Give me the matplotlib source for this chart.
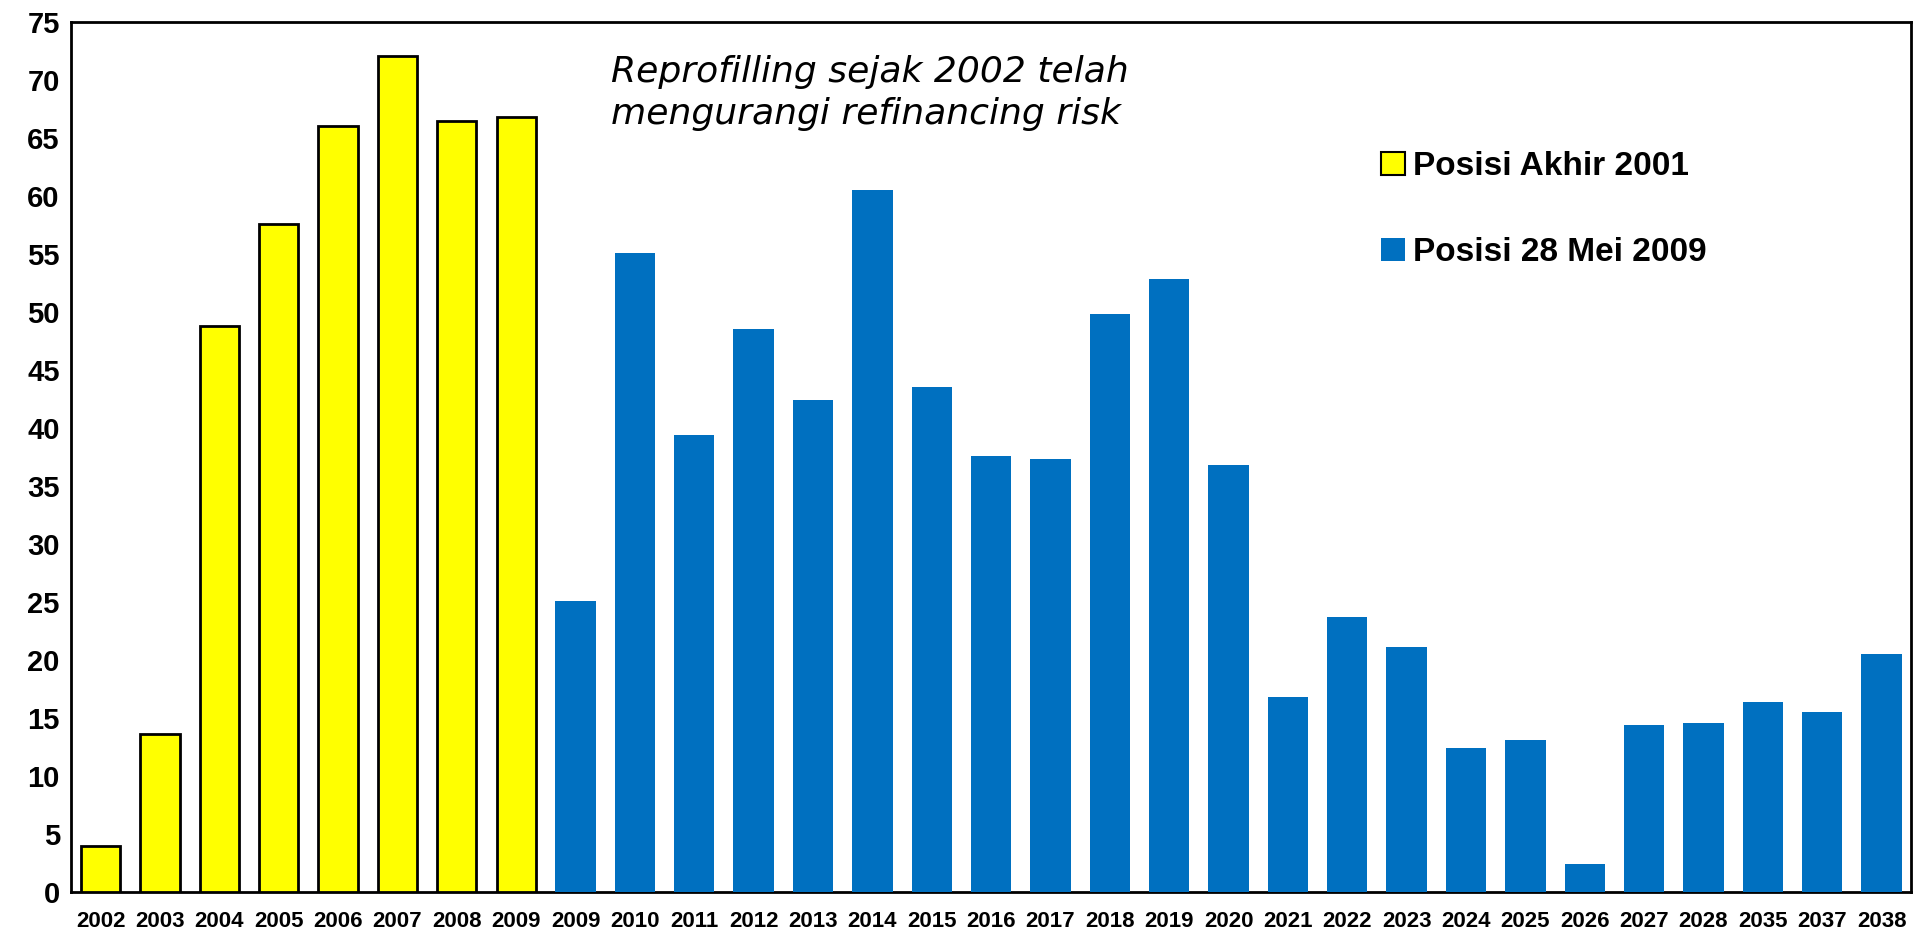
import matplotlib
matplotlib.use("Agg")
import matplotlib.pyplot as plt
from matplotlib.patches import Patch

labels = ["2002", "2003", "2004", "2005", "2006", "2007", "2008", "2009",
          "2009", "2010", "2011", "2012", "2013", "2014", "2015", "2016", "2017",
          "2018", "2019", "2020", "2021", "2022", "2023", "2024", "2025", "2026",
          "2027", "2028", "2035", "2037", "2038"]
akhir_2001 = [4.0, 13.6, 48.8, 57.6, 66.0, 72.1, 66.5, 66.8]
mei_2009 = [25.1, 55.1, 39.4, 48.5, 42.4, 60.5, 43.5, 37.6, 37.3, 49.8, 52.8,
            36.8, 16.8, 23.7, 21.1, 12.4, 13.1, 2.4, 14.4, 14.6, 16.4, 15.5, 20.5]
yticks = list(range(0, 80, 5))

YELLOW = "#FFFF00"
BLUE = "#0070C0"

plt.rcParams['font.family'] = ['Liberation Sans', 'DejaVu Sans']

fig = plt.figure(figsize=(19.17, 9.35), dpi=100)
ax = fig.add_axes([0.037, 0.046, 0.960, 0.9305])

n1 = len(akhir_2001)
x1 = list(range(n1))
x2 = list(range(n1, n1 + len(mei_2009)))
ax.bar(x1, akhir_2001, width=0.66, color=YELLOW, edgecolor="black", linewidth=2, zorder=3)
ax.bar(x2, mei_2009, width=0.68, color=BLUE, edgecolor="none", zorder=3)

ax.set_xlim(-0.5, len(labels) - 0.5)
ax.set_ylim(0, 75)
ax.set_yticks(yticks)
ax.set_yticklabels([str(t) for t in yticks], fontsize=21, fontweight="bold")
ax.set_xticks(range(len(labels)))
ax.set_xticklabels(labels, fontsize=16, fontweight="bold")
ax.tick_params(axis="y", length=0, pad=8)
ax.tick_params(axis="x", length=0, pad=14)
for s in ax.spines.values():
    s.set_linewidth(2)
    s.set_color("black")

ax.text(0.2935, 0.962, "Reprofilling sejak 2002 telah\nmengurangi refinancing risk",
        transform=ax.transAxes, fontsize=26, style="italic",
        family="DejaVu Sans", va="top", ha="left", linespacing=1.3)

handles = [Patch(facecolor=YELLOW, edgecolor="black", linewidth=1.5),
           Patch(facecolor=BLUE, edgecolor="none")]
leg = fig.legend(handles, ["Posisi Akhir 2001", "Posisi 28 Mei 2009"],
                 loc="upper left", bbox_to_anchor=(0.7205, 0.838), frameon=False,
                 prop={"size": 24, "weight": "bold"}, handlelength=0.7,
                 handleheight=0.7, handletextpad=0.25, labelspacing=1.65,
                 borderpad=0, borderaxespad=0)

fig.savefig("out.png", dpi=100)
